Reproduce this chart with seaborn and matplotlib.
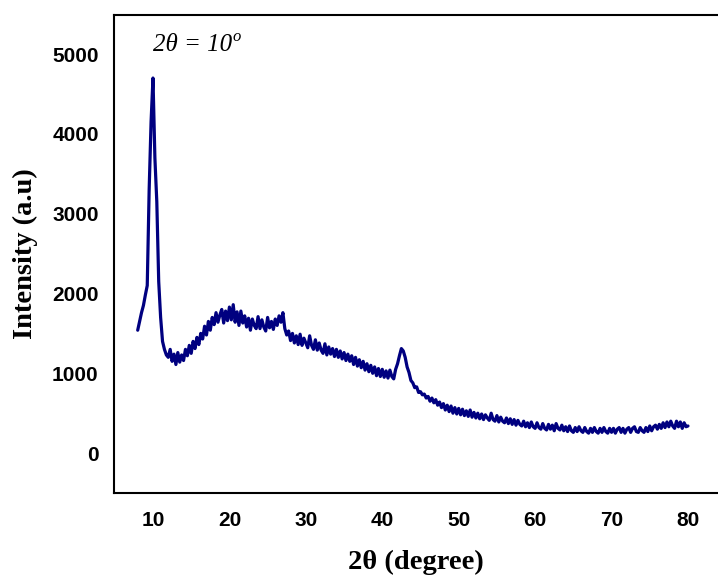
import numpy as np
import pandas as pd
import matplotlib
matplotlib.use("Agg")
import matplotlib.pyplot as plt
import seaborn as sns

# XRD scan: 2theta from 8 to 80 deg, step 0.25
two_theta_start = 8.0
two_theta_step = 0.25

intensity = [
    1540, 1650, 1760, 1850, 1980, 2100, 3300, 4150,
    4700, 3700, 3150, 2150, 1700, 1400, 1300, 1230,
    1200, 1300, 1150, 1240, 1110, 1260, 1140, 1230,
    1160, 1300, 1220, 1350, 1250, 1400, 1310, 1450,
    1360, 1500, 1430, 1590, 1480, 1650, 1540, 1700,
    1610, 1760, 1640, 1730, 1800, 1630, 1780, 1660,
    1830, 1670, 1860, 1640, 1770, 1600, 1780, 1630,
    1720, 1580, 1690, 1540, 1680, 1600, 1560, 1710,
    1560, 1670, 1580, 1530, 1700, 1570, 1650, 1550,
    1680, 1600, 1720, 1640, 1760, 1560, 1480, 1530,
    1410, 1500, 1380, 1470, 1360, 1490, 1350, 1440,
    1380, 1320, 1470, 1350, 1300, 1420, 1290, 1380,
    1290, 1250, 1370, 1230, 1330, 1240, 1310, 1210,
    1300, 1200, 1280, 1180, 1260, 1160, 1240, 1150,
    1220, 1110, 1200, 1090, 1170, 1070, 1150, 1040,
    1120, 1020, 1100, 1000, 1080, 970, 1060, 960,
    1050, 950, 1030, 940, 1040, 960, 930, 1050,
    1120, 1220, 1310, 1280, 1200, 1080, 1010, 910,
    880, 820, 830, 760, 770, 730, 740, 690,
    710, 650, 690, 630, 670, 600, 640, 570,
    620, 540, 600, 520, 590, 500, 570, 490,
    560, 480, 550, 470, 530, 460, 540, 450,
    510, 440, 500, 430, 490, 420, 480, 440,
    410, 500, 420, 400, 470, 390, 450, 400,
    380, 440, 370, 430, 360, 420, 350, 410,
    360, 340, 400, 330, 380, 320, 390, 330,
    310, 380, 320, 300, 370, 310, 290, 360,
    300, 350, 280, 370, 310, 290, 350, 280,
    330, 270, 340, 280, 260, 320, 270, 330,
    280, 260, 320, 270, 250, 310, 260, 320,
    270, 250, 310, 260, 320, 270, 250, 310,
    260, 310, 250, 300, 320, 260, 310, 250,
    300, 320, 260, 310, 330, 270, 260, 320,
    280, 260, 320, 270, 340, 280, 330, 350,
    300, 360, 310, 380, 320, 390, 330, 400,
    340, 310, 400, 330, 390, 310, 380, 330,
    340,
]

x_ticks = [10, 20, 30, 40, 50, 60, 70, 80]
y_ticks = [0, 1000, 2000, 3000, 4000, 5000]

two_theta = two_theta_start + two_theta_step * np.arange(len(intensity))
df = pd.DataFrame({"two_theta": two_theta, "intensity": intensity})

sns.set_style("white")
plt.rcParams["font.family"] = ["Liberation Sans", "DejaVu Sans"]
plt.rcParams.update({"text.color": "black", "axes.labelcolor": "black",
                     "xtick.color": "black", "ytick.color": "black"})
serif = ["Liberation Serif", "DejaVu Serif"]

fig = plt.figure(figsize=(7.18, 5.79), dpi=100)
ax = fig.add_axes([114 / 718, 86 / 579, 604 / 718, 478 / 579])

sns.lineplot(data=df, x="two_theta", y="intensity", ax=ax,
             color="#000080", linewidth=2.3)

ax.set_xlim(4.9, 83.93)
ax.set_ylim(-500, 5490)
ax.set_xticks(x_ticks)
ax.set_yticks(y_ticks)
ax.tick_params(length=0, labelsize=15)
ax.tick_params(axis="y", pad=11)
ax.tick_params(axis="x", pad=13)
for lab in ax.get_xticklabels() + ax.get_yticklabels():
    lab.set_fontweight("bold")

for side in ["left", "bottom", "top"]:
    ax.spines[side].set_color("black")
    ax.spines[side].set_linewidth(1.5)
ax.spines["right"].set_visible(False)

ax.set_xlabel("2θ (degree)", family=serif, fontsize=20.5,
              fontweight="bold", labelpad=14)
ax.set_ylabel("Intensity (a.u)", family=serif, fontsize=20.5,
              fontweight="bold", labelpad=10)

note = ax.text(9.95, 5040, "2θ = 10", family=serif, style="italic",
               fontsize=18)
ax.annotate("o", xy=(1, 0), xycoords=note, xytext=(0.8, 11),
            textcoords="offset points", va="baseline", family=serif,
            style="italic", fontsize=12)

fig.savefig("out.png", dpi=100)
